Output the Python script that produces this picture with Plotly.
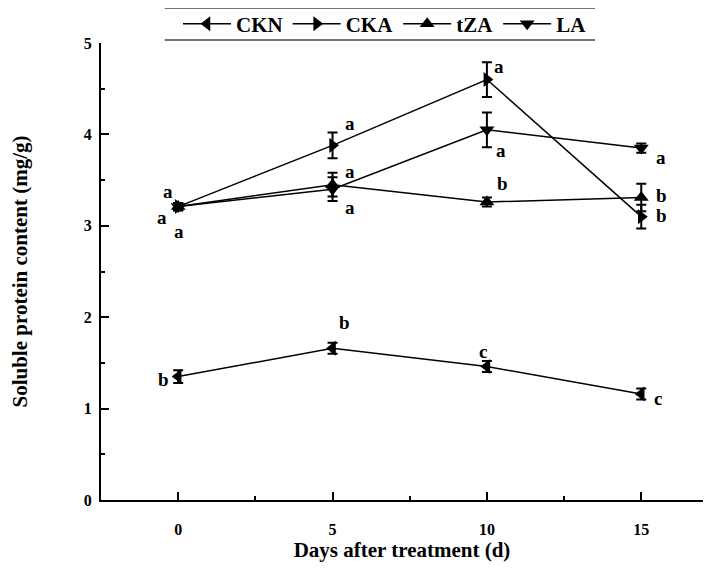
import plotly.graph_objects as go

days = [0, 5, 10, 15]

series_names = ["CKN", "CKA", "tZA", "LA"]
ckn = [1.35, 1.66, 1.46, 1.16]
cka = [3.21, 3.88, 4.60, 3.10]
tza = [3.21, 3.45, 3.26, 3.31]
la = [3.21, 3.40, 4.05, 3.85]

ckn_err = [0.07, 0.06, 0.06, 0.06]
cka_err = [0.04, 0.14, 0.19, 0.13]
tza_err = [0.04, 0.13, 0.05, 0.15]
la_err = [0.04, 0.13, 0.19, 0.05]

ckn_letters = ["b", "b", "c", "c"]
cka_letters = ["a", "a", "a", "b"]
tza_letters = ["a", "a", "b", "b"]
la_letters = ["a", "a", "a", "a"]

x_title = "Days after treatment (d)"
y_title = "Soluble protein content (mg/g)"
x_ticks = [0, 5, 10, 15]
y_ticks = [0, 1, 2, 3, 4, 5]

# label placement (data coordinates), layout only
label_pos = {
    "CKN": [(-0.48, 1.32), (5.4, 1.94), (9.87, 1.62), (15.55, 1.11)],
    "CKA": [(-0.32, 3.37), (5.55, 4.12), (10.4, 4.74), (15.65, 3.11)],
    "tZA": [(0.03, 2.94), (5.55, 3.59), (10.5, 3.46), (15.65, 3.33)],
    "LA": [(-0.52, 3.09), (5.55, 3.20), (10.45, 3.82), (15.65, 3.75)],
}
symbols = {"CKN": "triangle-left", "CKA": "triangle-right", "tZA": "triangle-up", "LA": "triangle-down"}

FONT = "Liberation Serif"
values = {"CKN": ckn, "CKA": cka, "tZA": tza, "LA": la}
errors = {"CKN": ckn_err, "CKA": cka_err, "tZA": tza_err, "LA": la_err}
letters = {"CKN": ckn_letters, "CKA": cka_letters, "tZA": tza_letters, "LA": la_letters}

fig = go.Figure()
for name in series_names:
    fig.add_trace(go.Scatter(
        x=days, y=values[name], name=name, mode="lines+markers",
        line=dict(color="black", width=1.5),
        marker=dict(symbol=symbols[name], size=13, color="black"),
        error_y=dict(type="data", array=errors[name], visible=True,
                     color="black", thickness=2, width=5),
    ))

annotations = []
for name in series_names:
    for (lx, ly), txt in zip(label_pos[name], letters[name]):
        annotations.append(dict(x=lx, y=ly, text=txt, showarrow=False,
                                xref="x", yref="y",
                                font=dict(family=FONT, size=19, color="black", weight="bold")))

axis_common = dict(showline=True, linecolor="black", linewidth=2, ticks="inside",
                   tickcolor="black", tickwidth=2, ticklen=8, showgrid=False,
                   zeroline=False, mirror=False, automargin=False,
                   tickfont=dict(family=FONT, size=16, color="black", weight="bold"))

fig.update_layout(
    width=705, height=566,
    margin=dict(l=93, r=10, t=35, b=74, autoexpand=False),
    paper_bgcolor="white", plot_bgcolor="white",
    font=dict(family=FONT, color="black"),
    xaxis=dict(range=[-2.5, 17], tickvals=x_ticks,
               minor=dict(ticks="inside", tick0=0, dtick=2.5, ticklen=4, tickwidth=2, tickcolor="black"),
               title=dict(text=x_title, font=dict(family=FONT, size=21, color="black", weight="bold"), standoff=2),
               ticklabelstandoff=14,
               **axis_common),
    yaxis=dict(range=[0, 5], tickvals=y_ticks,
               minor=dict(ticks="inside", tick0=0, dtick=0.5, ticklen=4, tickwidth=2, tickcolor="black"),
               title=dict(text=y_title, font=dict(family=FONT, size=21, color="black", weight="bold"), standoff=50),
               ticklabelstandoff=4,
               **axis_common),
    showlegend=True,
    legend=dict(orientation="h", xref="container", yref="container",
                x=0.2411, y=0.9717, xanchor="left", yanchor="middle",
                font=dict(family=FONT, size=21, color="black", weight="bold"),
                itemwidth=48, bgcolor="rgba(0,0,0,0)", tracegroupgap=0),
    annotations=annotations,
    shapes=[
        dict(type="line", xref="paper", yref="paper", x0=0.106, x1=0.8206, y0=1.0766, y1=1.0766,
             line=dict(color="#444", width=1.5)),
        dict(type="line", xref="paper", yref="paper", x0=0.106, x1=0.8206, y0=1.0066, y1=1.0066,
             line=dict(color="#444", width=1.5)),
    ],
)

fig.write_html("out.html")
